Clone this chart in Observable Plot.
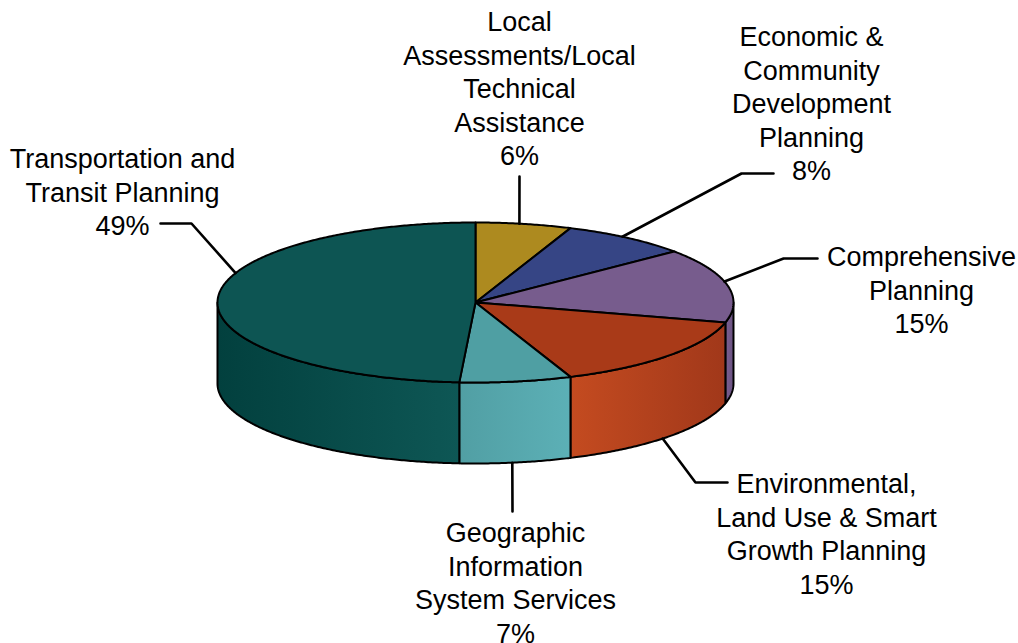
<!DOCTYPE html>
<html><head><meta charset="utf-8">
<script src="https://cdn.jsdelivr.net/npm/d3@7"></script>
<script src="https://cdn.jsdelivr.net/npm/@observablehq/plot@0.6"></script>
<style>html,body{margin:0;padding:0;background:#fff}</style>
</head><body><div id="chart"></div>
<script>
// ---- data ----
const categories = [
  "Local Assessments/Local Technical Assistance",
  "Economic & Community Development Planning",
  "Comprehensive Planning",
  "Environmental, Land Use & Smart Growth Planning",
  "Geographic Information System Services",
  "Transportation and Transit Planning"
];
const values = [6, 8, 15, 15, 7, 49];
const labelTexts = [
  "Local\nAssessments/Local\nTechnical\nAssistance",
  "Economic &\nCommunity\nDevelopment\nPlanning",
  "Comprehensive\nPlanning",
  "Environmental,\nLand Use & Smart\nGrowth Planning",
  "Geographic\nInformation\nSystem Services",
  "Transportation and\nTransit Planning"
];

// ---- styles ----
const topColors = ["#ad8a1f", "#364585", "#775c8d", "#a93a18", "#4f9fa3", "#0d5553"];
const wallColors = [
  ["#9c7c1b", "#8a6d16"],
  ["#30407a", "#2a386d"],
  ["#7a5f90", "#6b5282"],
  ["#c44b20", "#a1381a"],
  ["#519fa4", "#5cb0b6"],
  ["#02403e", "#0e5755"]
];

// ---- layout (pie units: u = horizontal radius, v = vertical radius) ----
const W = 1018, H = 643;
const cx = 475, cy = 302, rx = 258, ry = 80, depth = 81;
const d = depth / ry;
const fontSize = 27, linePx = 33.5;
// label anchors, leader angle (deg), leader elbow/end points
const labelLayout = [
  {u: 0.1705, v: -3.687, ang: 9.8, pts: [[0.1705, -1.575]]},
  {u: 1.3023, v: -3.500, ang: 34.7, pts: [[1.031, -1.6125], [1.155, -1.6125]]},
  {u: 1.7287, v: -0.750, ang: 74.8, pts: [[1.194, -0.55], [1.3256, -0.55]]},
  {u: 1.3605, v: 2.088, ang: 133.5, pts: [[0.8527, 2.25], [0.9767, 2.25]]},
  {u: 0.155, v: 2.700, ang: 171.8, pts: [[0.1434, 2.6125]]},
  {u: -1.3682, v: -1.975, ang: 291.6, pts: [[-1.1008, -0.9875], [-1.2209, -0.9875]]}
];

const rad = a => a * Math.PI / 180;
const total = d3.sum(values);
let acc = 0;
const slices = values.map((v, i) => {
  const a0 = acc / total * 360; acc += v;
  const a1 = acc / total * 360;
  return {i, a0, a1, value: v};
});

function arc(a0, a1, dv) {
  const n = Math.max(2, Math.ceil((a1 - a0) / 0.5));
  const pts = [];
  for (let k = 0; k <= n; k++) {
    const a = a0 + (a1 - a0) * k / n;
    pts.push({u: Math.sin(rad(a)), v: -Math.cos(rad(a)) + dv});
  }
  return pts;
}

const marks = [];
// walls (visible between 90 and 270 deg)
slices.forEach(s => {
  const a0 = Math.max(s.a0, 90), a1 = Math.min(s.a1, 270);
  if (a1 <= a0) return;
  const pts = arc(a0, a1, 0).concat(arc(a0, a1, d).reverse());
  marks.push(Plot.line(pts, {x: "u", y: "v", curve: "linear-closed",
    fill: `url(#wall-${s.i})`, stroke: "black", strokeWidth: 2, strokeLinejoin: "round"}));
});
// tops
slices.forEach(s => {
  const pts = [{u: 0, v: 0}].concat(arc(s.a0, s.a1, 0));
  marks.push(Plot.line(pts, {x: "u", y: "v", curve: "linear-closed",
    fill: topColors[s.i], stroke: "black", strokeWidth: 2, strokeLinejoin: "round"}));
});
// leader lines
labelLayout.forEach((L, i) => {
  const a = rad(L.ang);
  const front = L.ang > 90 && L.ang < 270;
  const start = {u: Math.sin(a), v: -Math.cos(a) + (front ? d : 0)};
  const pts = [start].concat(L.pts.map(([u, v]) => ({u, v})));
  marks.push(Plot.line(pts, {x: "u", y: "v", stroke: "black", strokeWidth: 2.6, strokeLinejoin: "miter"}));
});
// labels
const labelData = slices.map(s => ({
  u: labelLayout[s.i].u, v: labelLayout[s.i].v,
  text: labelTexts[s.i] + "\n" + s.value + "%"
}));
marks.push(Plot.text(labelData, {x: "u", y: "v", text: "text", fontSize, lineHeight: linePx / fontSize,
  lineAnchor: "top", textAnchor: "middle", fill: "black",
  fontFamily: "Liberation Sans, Arial, Helvetica, sans-serif"}));

const chart = Plot.plot({
  width: W, height: H,
  margin: 0,
  x: {type: "linear", domain: [-cx / rx, (W - cx) / rx], range: [0, W], axis: null},
  y: {type: "linear", domain: [-cy / ry, (H - cy) / ry], range: [0, H], axis: null},
  style: {background: "white", fontFamily: "Liberation Sans, Arial, Helvetica, sans-serif"},
  marks
});

const defs = d3.select(chart).insert("defs", ":first-child");
wallColors.forEach((c, i) => {
  const g = defs.append("linearGradient").attr("id", `wall-${i}`)
    .attr("x1", 0).attr("x2", 1).attr("y1", 0).attr("y2", 0);
  g.append("stop").attr("offset", 0).attr("stop-color", c[0]);
  g.append("stop").attr("offset", 1).attr("stop-color", c[1]);
});
document.getElementById("chart").appendChild(chart);
</script>
</body></html>
